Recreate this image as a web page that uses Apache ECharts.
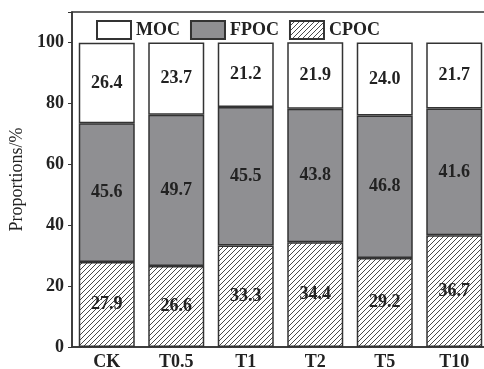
<!DOCTYPE html>
<html><head><meta charset="utf-8">
<script src="https://cdn.jsdelivr.net/npm/echarts@6/dist/echarts.min.js"></script>
<style>html,body{margin:0;padding:0;background:#fff}#c{width:484px;height:369px}</style>
</head><body><div id="c"></div>
<script>
const categories = ['CK','T0.5','T1','T2','T5','T10'];
const cpoc = [27.9, 26.6, 33.3, 34.4, 29.2, 36.7];
const fpoc = [45.6, 49.7, 45.5, 43.8, 46.8, 41.6];
const moc  = [26.4, 23.7, 21.2, 21.9, 24.0, 21.7];
const yTicks = [0, 20, 40, 60, 80, 100];

function hatch(){
  const s = 5, c = document.createElement('canvas');
  c.width = s; c.height = s;
  const g = c.getContext('2d');
  g.fillStyle = '#fff'; g.fillRect(0,0,s,s);
  g.strokeStyle = '#333'; g.lineWidth = 0.9;
  g.beginPath();
  g.moveTo(-1, s+1); g.lineTo(s+1, -1);
  g.moveTo(-1, 1); g.lineTo(1, -1);
  g.moveTo(s-1, s+1); g.lineTo(s+1, s-1);
  g.stroke();
  return c;
}
const font = 'Liberation Serif';
const txt = '#222';
const chart = echarts.init(document.getElementById('c'), null, {renderer:'canvas'});
const lbl = {show:true, position:'inside', fontFamily:font, fontWeight:'bold', fontSize:18, color:txt};
const border = {borderColor:'#333', borderWidth:1.5};
chart.setOption({
  animation:false,
  grid:{left:72, width:417, top:12, bottom:22, show:true, borderColor:'#333', borderWidth:1.5,
        backgroundColor:'transparent', outerBoundsMode:'none', containLabel:false},
  legend:{
    data:['MOC','FPOC','CPOC'], left:91, top:15, itemWidth:34, itemHeight:18, itemGap:10, icon:'rect',
    textStyle:{fontFamily:font, fontWeight:'bold', fontSize:18, color:txt}
  },
  xAxis:{
    type:'category', data:categories,
    axisLine:{lineStyle:{color:'#333', width:1.5}},
    axisTick:{inside:true, alignWithLabel:true, length:4, lineStyle:{color:'#333'}},
    axisLabel:{fontFamily:font, fontWeight:'bold', fontSize:18, color:txt, margin:6}
  },
  yAxis:{
    type:'value', min:0, max:110, interval:20,
    name:'Proportions/%', nameLocation:'middle', nameGap:41,
    nameTextStyle:{fontFamily:font, fontSize:18, color:txt},
    axisLine:{show:true, lineStyle:{color:'#333', width:1.5}},
    axisTick:{show:true, length:4, lineStyle:{color:'#333'}},
    splitLine:{show:false},
    axisLabel:{fontFamily:font, fontWeight:'bold', fontSize:18, color:txt, margin:8,
      formatter:v => yTicks.includes(v) ? String(v) : ''}
  },
  series:[
    {name:'CPOC', type:'bar', stack:'a', barWidth:56, data:cpoc,
     itemStyle:Object.assign({color:{image:hatch(), repeat:'repeat'}}, border),
     label:Object.assign({formatter:p=>p.value.toFixed(1)}, lbl)},
    {name:'FPOC', type:'bar', stack:'a', barWidth:56, data:fpoc,
     itemStyle:Object.assign({color:'#8f8f92'}, border),
     label:Object.assign({formatter:p=>p.value.toFixed(1)}, lbl)},
    {name:'MOC', type:'bar', stack:'a', barWidth:56, data:moc,
     itemStyle:Object.assign({color:'#fff'}, border),
     label:Object.assign({formatter:p=>p.value.toFixed(1)}, lbl)}
  ]
});
</script></body></html>
